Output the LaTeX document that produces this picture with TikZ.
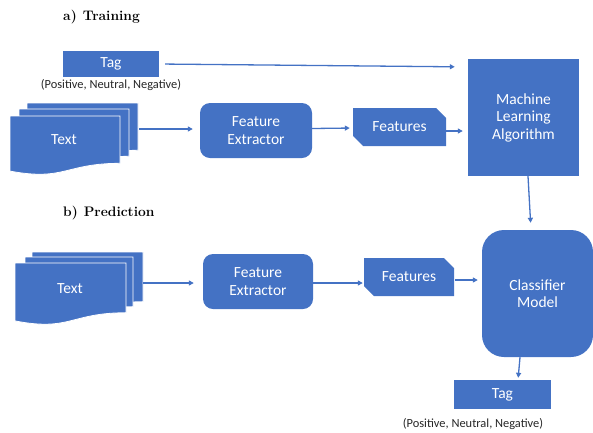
\documentclass[tikz,border=0pt]{standalone}
\usepackage{fontspec}
\newfontfamily\boxfont{Carlito}
\usetikzlibrary{shapes.misc,arrows.meta,calc}
\definecolor{ofblue}{HTML}{4472C4}
\newcommand\docshape[4]{%
  \path[docs] (#1,#2) -- (#1+#3,#2) -- (#1+#3,#2+0.802*#4)
    .. controls (#1+0.5*#3,#2+0.802*#4) and (#1+0.5*#3,#2+1.107*#4) .. (#1,#2+0.934*#4) -- cycle;}
\begin{document}
\begin{tikzpicture}[x=1pt,y=-1pt,
  box/.style={fill=ofblue, text=white, font=\boxfont\fontsize{15.5}{17.5}\selectfont, align=center, inner sep=0pt},
  sq/.style={box, rectangle},
  rnd/.style={box, rectangle, rounded corners=10pt},
  feat/.style={box, chamfered rectangle, chamfered rectangle corners={north east,south west}, chamfered rectangle xsep=5pt, chamfered rectangle ysep=5pt},
  docs/.style={fill=ofblue, draw=white, line width=0.8pt},
  arr/.style={draw=ofblue, line width=1.3pt, -{Triangle[length=5pt,width=5pt]}},
  note/.style={font=\boxfont\fontsize{12.4}{14}\selectfont, text=black!85, inner sep=0pt},
  ttl/.style={font=\rmfamily\bfseries\fontsize{13.8}{16}\selectfont, anchor=west, inner sep=0pt}]
\useasboundingbox (0,0) rectangle (593,432);

% ---- a) Training
\node[ttl] (ta) at (63,17) {a)\hspace{6pt}Training};
\node[sq, minimum width=96, minimum height=26] (tag1) at (111,64) {Tag};
\node[note] (n1) at (111,85) {(Positive, Neutral, Negative)};
\node[sq, minimum width=111, minimum height=117] (ml) at (523.5,117.5) {Machine\\Learning\\Algorithm};
\docshape{27}{103}{111}{59}
\docshape{19}{109}{110}{59}
\docshape{10}{116}{110}{59}
\node[box, fill=none] (text1) at (64,140) {Text};
\coordinate (t1out) at (139,129);
\node[rnd, minimum width=112, minimum height=55] (fe1) at (256,130.5) {Feature\\Extractor};
\node[feat, minimum width=93, minimum height=38] (f1) at (399.5,127) {Features};

\draw[arr, shorten <=6pt] (tag1.east) -- ($(ml.north west)+(-13,8)$);
\draw[arr] (t1out) -- ($(fe1.west |- t1out)+(-7,0)$);
\draw[arr, shorten >=3pt] ($(fe1.east)+(0,-2)$) -- ($(f1.west)+(0,1)$);
\draw[arr, shorten >=5pt] ($(f1.east)+(0,4)$) -- ($(f1.east -| ml.west)+(0,4)$);

% ---- b) Prediction
\node[ttl] (tb) at (63,213) {b)\hspace{6pt}Prediction};
\docshape{32}{252}{111}{62}
\docshape{25}{257}{108}{62}
\docshape{15}{263}{111}{62}
\node[box, fill=none] (text2) at (70,289) {Text};
\coordinate (t2out) at (143,283);
\node[rnd, minimum width=110, minimum height=55] (fe2) at (258,281.5) {Feature\\Extractor};
\node[feat, minimum width=90, minimum height=38] (f2) at (409,277) {Features};
\node[box, rectangle, rounded corners=22pt, minimum width=111, minimum height=127] (cm) at (537.5,293.5) {Classifier\\Model};
\node[sq, minimum width=97, minimum height=29] (tag2) at (502.5,394.5) {Tag};
\node[note] (n2) at (473,424) {(Positive, Neutral, Negative)};

\draw[arr, shorten >=7pt] ($(ml.south)+(4.5,0)$) -- ($(cm.north)+(-6.5,0)$);
\draw[arr] (t2out) -- ($(fe2.west |- t2out)+(-9,0)$);
\draw[arr, shorten >=1pt] ($(fe2.east)+(0,1.5)$) -- ($(f2.west)+(0,6)$);
\draw[arr, shorten >=4pt] ($(f2.east)+(1,3)$) -- ($(f2.east -| cm.west)+(0,3)$);
\draw[arr, shorten >=2pt] ($(cm.south)+(-17.5,0)$) -- ($(tag2.north)+(15.5,0)$);
\end{tikzpicture}
\end{document}
